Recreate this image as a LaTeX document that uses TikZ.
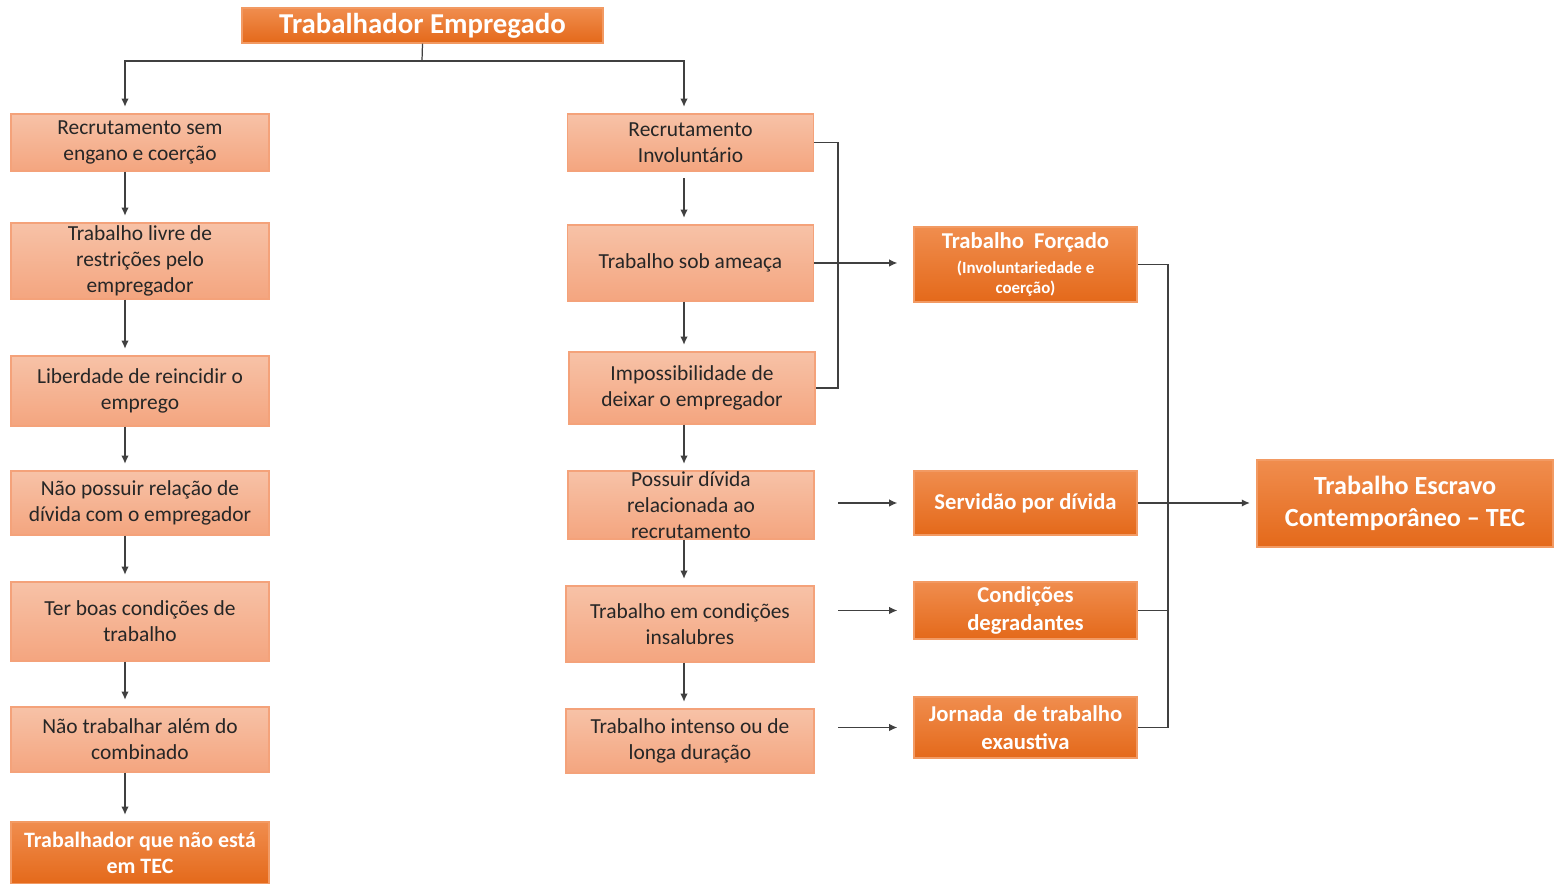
\documentclass[tikz,border=0pt]{standalone}
\usepackage{fontspec}
\setmainfont{Carlito}
\usepackage{xcolor}
\usepackage{tikz}
\usetikzlibrary{arrows.meta}
\definecolor{lighttop}{HTML}{F7C2A7}
\definecolor{lightbot}{HTML}{F4A57F}
\definecolor{lightedge}{HTML}{F4A27A}
\definecolor{orangetop}{HTML}{F08D4E}
\definecolor{orangebot}{HTML}{E4691A}
\definecolor{orangeedge}{HTML}{F29A63}
\definecolor{bodyink}{HTML}{262626}
\tikzset{
  lightbox/.style={draw=lightedge,line width=0.8pt,top color=lighttop,bottom color=lightbot,inner sep=0pt,align=center,text=bodyink,font=\fontsize{12.2}{14.7}\selectfont},
  orangebox/.style={draw=orangeedge,line width=0.8pt,top color=orangetop,bottom color=orangebot,inner sep=0pt,align=center,text=white,font=\bfseries\fontsize{12.9}{15.9}\selectfont},
  titletext/.style={font=\bfseries\fontsize{16.4}{19}\selectfont},
  fintext/.style={font=\bfseries\fontsize{14.9}{18.1}\selectfont},
  tectext/.style={font=\bfseries\fontsize{12.5}{14.7}\selectfont},
  plaintext/.style={inner sep=0pt,align=center,text=bodyink,font=\fontsize{12.2}{14.7}\selectfont},
  link/.style={draw=black!75,line width=0.7pt},
  arrowlink/.style={link,-{Latex[length=4.6pt,width=4.2pt]}}
}
\newcommand{\smalltxt}{\fontsize{9.6}{11}\selectfont}

\begin{document}
\begin{tikzpicture}[x=0.02cm,y=-0.02cm]
  % drawing parameters
  \pgfmathsetmacro{\lwdt}{5.16} % width of left boxes
  \pgfmathsetmacro{\mwdt}{4.92} % width of middle boxes
  \pgfmathsetmacro{\rwdt}{4.46} % width of right boxes
  \pgfmathsetmacro{\gap}{0.13} % gap in front of arrow tips
  \pgfmathsetmacro{\rgap}{0.32} % gap in front of right arrow tips

  \useasboundingbox (0,0) rectangle (1560,884);

  % top
  \node[orangebox,titletext,minimum width=7.22cm,minimum height=0.7cm] (emp) at (422.5,25.5) {Trabalhador Empregado};
  \coordinate (split) at (422,61);
  \coordinate (lx) at (125,0);
  \coordinate (mx) at (684,0);
  \coordinate (lbr) at (838,0);
  \coordinate (rbr) at (1168,0);

  % left column
  \node[lightbox,minimum width=\lwdt cm,minimum height=1.14cm] (l1) at (140,142.5) {Recrutamento sem\\engano e coerção};
  \node[lightbox,minimum width=\lwdt cm,minimum height=1.52cm] (l2) at (140,261) {Trabalho livre de\\restrições pelo\\empregador};
  \node[lightbox,minimum width=\lwdt cm,minimum height=1.4cm] (l3) at (140,391) {Liberdade de reincidir o\\emprego};
  \node[lightbox,minimum width=\lwdt cm,minimum height=1.28cm] (l4) at (140,503) {Não possuir relação de\\dívida com o empregador};
  \node[lightbox,minimum width=\lwdt cm,minimum height=1.58cm] (l5) at (140,621.5) {Ter boas condições de\\trabalho};
  \node[lightbox,minimum width=\lwdt cm,minimum height=1.3cm] (l6) at (140,739.5) {Não trabalhar além do\\combinado};
  \node[orangebox,tectext,minimum width=\lwdt cm,minimum height=1.24cm] (l7) at (140,853) {Trabalhador que não está\\em TEC};

  % middle column
  \node[lightbox,minimum width=\mwdt cm,minimum height=1.14cm] (m1) at (690.5,142.5) {Recrutamento\\Involuntário};
  \node[lightbox,minimum width=\mwdt cm,minimum height=1.52cm] (m2) at (690.5,263) {Trabalho sob ameaça};
  \node[lightbox,minimum width=\mwdt cm,minimum height=1.44cm] (m3) at (692,388) {Impossibilidade de\\deixar o empregador};
  \node[lightbox,minimum width=\mwdt cm,minimum height=1.36cm] (m4) at (691,505) {};
  \node[plaintext] (m4txt) at (m4) {Possuir dívida\\relacionada ao\\recrutamento};
  \node[lightbox,minimum width=4.96cm,minimum height=1.52cm] (m5) at (690,624) {Trabalho em condições\\insalubres};
  \node[lightbox,minimum width=4.96cm,minimum height=1.28cm] (m6) at (690,741) {Trabalho intenso ou de\\longa duração};

  % right column
  \node[orangebox,minimum width=\rwdt cm,minimum height=1.5cm] (r1) at (1025.5,264.5) {Trabalho\ \ Forçado\\[-1.7pt]{\smalltxt(Involuntariedade e}\\[-4pt]{\smalltxt coerção)}};
  \node[orangebox,minimum width=\rwdt cm,minimum height=1.28cm] (r2) at (1025.5,503) {Servidão por dívida};
  \node[orangebox,minimum width=\rwdt cm,minimum height=1.14cm] (r3) at (1025.5,610.5) {Condições\\degradantes};
  \node[orangebox,minimum width=\rwdt cm,minimum height=1.22cm] (r4) at (1025.5,727.5) {Jornada\ \ de trabalho\\exaustiva};

  % result
  \node[orangebox,fintext,minimum width=5.92cm,minimum height=1.74cm] (fin) at (1405,503.5) {Trabalho Escravo\\Contemporâneo – TEC};

  % top split
  \draw[link] (emp.south) -- (split);
  \draw[arrowlink,shorten >=\gap cm] (split) -| (l1.north -| lx);
  \draw[arrowlink,shorten >=\gap cm] (split) -| (m1.north -| mx);

  % left arrows
  \foreach \a/\b in {l1/l2,l2/l3,l3/l4,l4/l5,l5/l6,l6/l7}
    \draw[arrowlink,shorten >=\gap cm] (\a.south -| lx) -- (\b.north -| lx);

  % middle arrows
  \draw[arrowlink,shorten <=\gap cm,shorten >=\gap cm] (m1.south -| mx) -- (m2.north -| mx);
  \foreach \a/\b in {m2/m3,m3/m4,m4/m5,m5/m6}
    \draw[arrowlink,shorten >=\gap cm] (\a.south -| mx) -- (\b.north -| mx);

  % left bracket
  \draw[link] (m1.east) -- (m1.east -| lbr) -- (m3.east -| lbr) -- (m3.east);
  \draw[arrowlink,shorten >=\rgap cm] (m2.east) -- (m2.east -| r1.west);
  \draw[arrowlink,shorten >=\rgap cm] (lbr |- r2.west) -- (r2.west);
  \draw[arrowlink,shorten >=\rgap cm] (lbr |- r3.west) -- (r3.west);
  \draw[arrowlink,shorten >=\rgap cm] (lbr |- r4.west) -- (r4.west);

  % right bracket
  \draw[link] (r1.east) -- (r1.east -| rbr) -- (r4.east -| rbr) -- (r4.east);
  \draw[link] (r3.east) -- (r3.east -| rbr);
  \draw[arrowlink,shorten >=\gap cm] (r2.east) -- (r2.east -| fin.west);
\end{tikzpicture}
\end{document}
